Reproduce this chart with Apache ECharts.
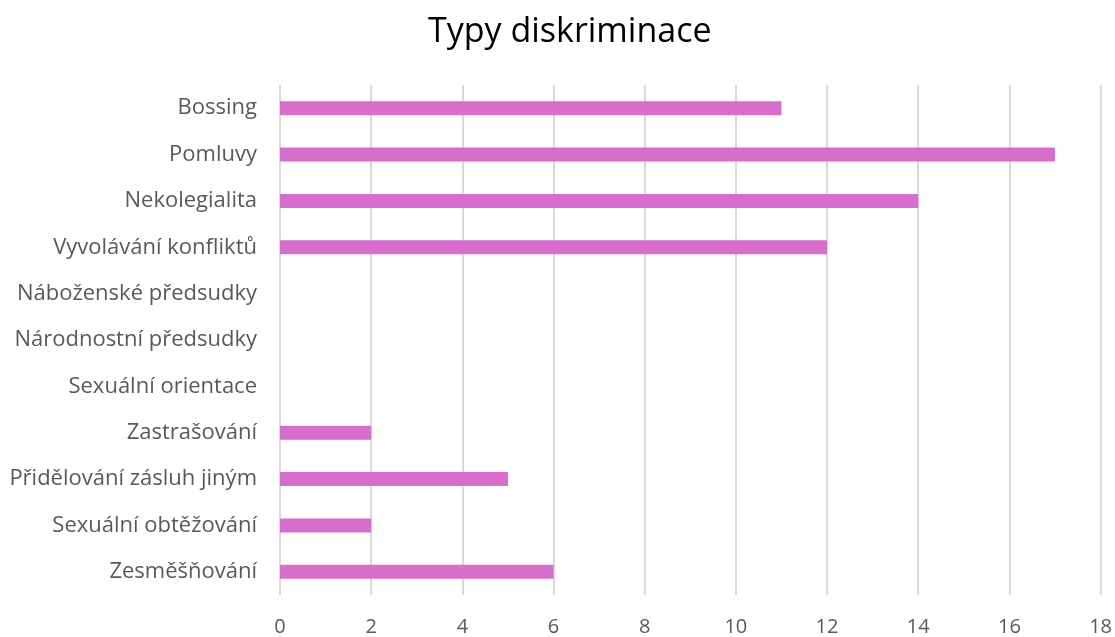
<!DOCTYPE html>
<html>
<head>
<meta charset="utf-8">
<script src="https://cdn.jsdelivr.net/npm/echarts@6/dist/echarts.min.js"></script>
<style>html,body{margin:0;padding:0;background:#fff}#c{width:1115px;height:637px}</style>
</head>
<body>
<div id="c"></div>
<script>
const categories = ["Bossing","Pomluvy","Nekolegialita","Vyvolávání konfliktů","Náboženské předsudky","Národnostní předsudky","Sexuální orientace","Zastrašování","Přidělování zásluh jiným","Sexuální obtěžování","Zesměšňování"];
const values = [11,17,14,12,0,0,0,2,5,2,6];
const chartTitle = "Typy diskriminace";

const chart = echarts.init(document.getElementById('c'), null, {renderer:'canvas'});
chart.setOption({
  animation:false,
  backgroundColor:'#ffffff',
  title:{text:chartTitle,left:423,top:10,textStyle:{fontFamily:'Open Sans',fontSize:34,fontWeight:'normal',color:'#000'}},
  grid:{left:280,right:14,top:85,bottom:40,containLabel:false},
  xAxis:{type:'value',min:0,max:18,interval:2,
    axisLine:{show:false},axisTick:{show:false},
    splitLine:{lineStyle:{color:'#d9d9d9',width:2}},
    axisLabel:{color:'#595959',fontFamily:'Open Sans',fontSize:20,margin:22}},
  yAxis:{type:'category',inverse:true,data:categories,
    axisLine:{show:false},axisTick:{show:false},
    axisLabel:{color:'#595959',fontFamily:'Open Sans',fontSize:22,margin:23}},
  series:[{type:'bar',data:values,barWidth:14,itemStyle:{color:'#D86ECC'}}]
});
</script>
</body>
</html>
